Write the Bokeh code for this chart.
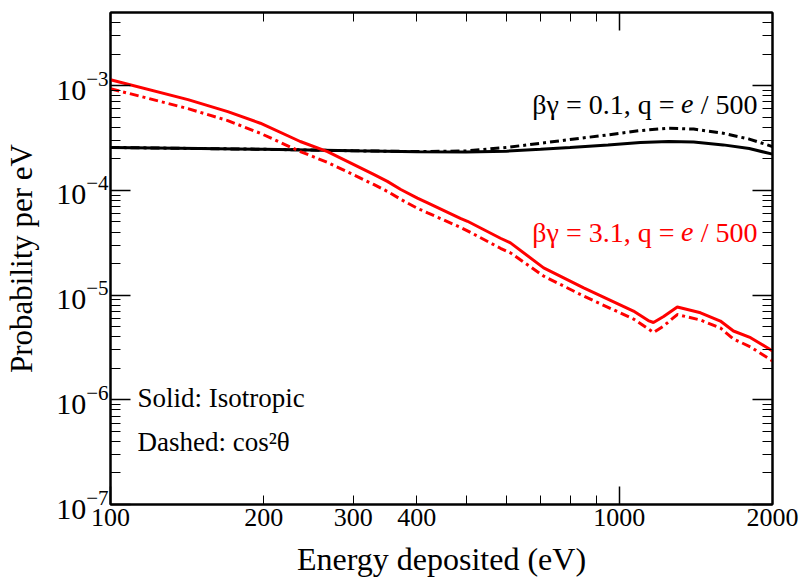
from bokeh.plotting import figure
from bokeh.models import LogAxis, FixedTicker, Label, Range1d, NumeralTickFormatter
from bokeh.embed import file_html
from bokeh.resources import INLINE

# ---------------- data ----------------
E_black = [100, 150, 200, 300, 400, 500, 600, 700, 800, 950, 1100, 1250, 1400, 1600, 1800, 2000]
black_iso = [2.57e-4, 2.51e-4, 2.47e-4, 2.39e-4, 2.34e-4, 2.32e-4, 2.37e-4, 2.47e-4,
             2.57e-4, 2.72e-4, 2.87e-4, 2.93e-4, 2.90e-4, 2.72e-4, 2.51e-4, 2.22e-4]
black_cos = [2.57e-4, 2.51e-4, 2.47e-4, 2.39e-4, 2.35e-4, 2.38e-4, 2.57e-4, 2.82e-4,
             3.06e-4, 3.39e-4, 3.73e-4, 3.92e-4, 3.85e-4, 3.51e-4, 3.09e-4, 2.62e-4]

E_red = [100, 142, 170, 197, 236, 267, 329, 350, 372, 401, 420, 487, 503, 584, 611, 710,
         851, 1066, 1140, 1167, 1222, 1300, 1444, 1580, 1676, 1811, 2000]
red_iso = [1.14e-3, 7.36e-4, 5.65e-4, 4.38e-4, 2.93e-4, 2.35e-4, 1.42e-4, 1.22e-4, 1.02e-4,
           8.45e-5, 7.6e-5, 5.4e-5, 5.07e-5, 3.49e-5, 3.15e-5, 1.82e-5, 1.17e-5, 7.04e-6,
           5.71e-6, 5.47e-6, 6.24e-6, 7.69e-6, 6.78e-6, 5.65e-6, 4.54e-6, 3.92e-6, 2.93e-6]
red_cos = [9.36e-4, 6.04e-4, 4.64e-4, 3.51e-4, 2.35e-4, 1.85e-4, 1.14e-4, 9.78e-5, 8.21e-5,
           6.74e-5, 6.1e-5, 4.44e-5, 4.11e-5, 2.80e-5, 2.53e-5, 1.52e-5, 9.78e-6, 5.91e-6,
           4.75e-6, 4.39e-6, 5.07e-6, 6.52e-6, 5.78e-6, 4.85e-6, 3.81e-6, 3.20e-6, 2.35e-6]

x_tick_labels = [100, 200, 300, 400, 1000, 2000]
x_major_long = [100, 1000]
x_minor = [200, 300, 400, 500, 600, 700, 800, 900, 2000]
y_ticks = [1e-7, 1e-6, 1e-5, 1e-4, 1e-3]
y_minor = [k * d for d in [1e-7, 1e-6, 1e-5, 1e-4, 1e-3] for k in range(2, 10)]

FONT = "Liberation Serif"
DASH = "9 4 3 4"

p = figure(frame_width=662, frame_height=492,
           x_axis_type="log", y_axis_type="log",
           x_range=Range1d(100, 2000), y_range=Range1d(1e-7, 5e-3),
           x_axis_location=None, y_axis_location=None,
           output_backend="svg", toolbar_location=None,
           min_border_left=110, min_border_right=30, min_border_top=12, min_border_bottom=76,
           background_fill_color="white", border_fill_color="white")
p.outline_line_color = "black"
p.outline_line_width = 2
p.grid.visible = False
p.xgrid.grid_line_color = None
p.ygrid.grid_line_color = None


def base_style(ax):
    ax.axis_line_color = "black"
    ax.axis_line_width = 2
    ax.major_tick_out = 0
    ax.minor_tick_out = 0
    ax.major_tick_line_color = "black"
    ax.minor_tick_line_color = "black"
    ax.major_tick_line_width = 1.5
    ax.minor_tick_line_width = 1
    ax.major_label_text_font = FONT
    ax.axis_label_text_font = FONT
    ax.axis_label_text_font_style = "normal"
    ax.axis_label_text_color = "black"
    ax.major_label_text_color = "black"


def hidden_labels(ax):
    ax.major_label_text_font_size = "1px"
    ax.major_label_text_alpha = 0
    ax.major_label_standoff = 0


# left axis
left = LogAxis(ticker=FixedTicker(ticks=y_ticks, minor_ticks=y_minor))
base_style(left)
left.major_tick_in = 20
left.minor_tick_in = 10
left.major_label_text_font_size = "30px"
left.major_label_standoff = 2
left.axis_label = "Probability per eV"
left.axis_label_text_font_size = "31px"
left.axis_label_standoff = 14
p.add_layout(left, "left")

# right axis (ticks only)
right = LogAxis(ticker=FixedTicker(ticks=y_ticks, minor_ticks=y_minor))
base_style(right)
right.major_tick_in = 20
right.minor_tick_in = 10
hidden_labels(right)
p.add_layout(right, "right")

# bottom tick axis (long tick at 1000)
bt = LogAxis(ticker=FixedTicker(ticks=x_major_long, minor_ticks=x_minor))
base_style(bt)
bt.major_tick_in = 18
bt.minor_tick_in = 9
hidden_labels(bt)
p.add_layout(bt, "below")

# bottom labels axis
bl = LogAxis(ticker=FixedTicker(ticks=x_tick_labels, minor_ticks=[]),
             formatter=NumeralTickFormatter(format="0"))
base_style(bl)
bl.axis_line_color = None
bl.major_tick_line_color = None
bl.minor_tick_line_color = None
bl.major_label_text_font_size = "26px"
bl.major_label_standoff = 4
bl.axis_label = "Energy deposited (eV)"
bl.axis_label_text_font_size = "32px"
bl.axis_label_standoff = 12
p.add_layout(bl, "below")

# top axis (ticks only)
top = LogAxis(ticker=FixedTicker(ticks=x_major_long, minor_ticks=x_minor))
base_style(top)
top.major_tick_in = 18
top.minor_tick_in = 9
hidden_labels(top)
p.add_layout(top, "above")

# curves
p.line(E_black, black_cos, line_color="black", line_width=3, line_dash=DASH)
p.line(E_black, black_iso, line_color="black", line_width=3)
p.line(E_red, red_cos, line_color="red", line_width=3, line_dash=DASH)
p.line(E_red, red_iso, line_color="red", line_width=3)

# annotations
FS = "28px"


def label_group(y, color, first):
    anchor_x = 1869
    p.add_layout(Label(x=anchor_x, y=y, text="/ 500", text_align="right",
                       text_baseline="alphabetic", text_font=FONT, text_font_size=FS,
                       text_color=color))
    p.add_layout(Label(x=anchor_x, y=y, x_offset=-64, text="e", text_align="right",
                       text_baseline="alphabetic", text_font=FONT, text_font_size=FS,
                       text_font_style="italic", text_color=color))
    p.add_layout(Label(x=anchor_x, y=y, x_offset=-83, text=first, text_align="right",
                       text_baseline="alphabetic", text_font=FONT, text_font_size=FS,
                       text_color=color))


label_group(6.64e-4, "black", "βγ = 0.1, q =")
label_group(3.98e-5, "red", "βγ = 3.1, q =")

p.add_layout(Label(x=113, y=1.03e-6, text="Solid: Isotropic", text_align="left",
                   text_baseline="alphabetic", text_font=FONT, text_font_size="27px",
                   text_color="black"))
p.add_layout(Label(x=113, y=3.98e-7, text="Dashed: cos²θ", text_align="left",
                   text_baseline="alphabetic", text_font=FONT, text_font_size="27px",
                   text_color="black"))

open("out.html", "w").write(file_html(p, INLINE))
